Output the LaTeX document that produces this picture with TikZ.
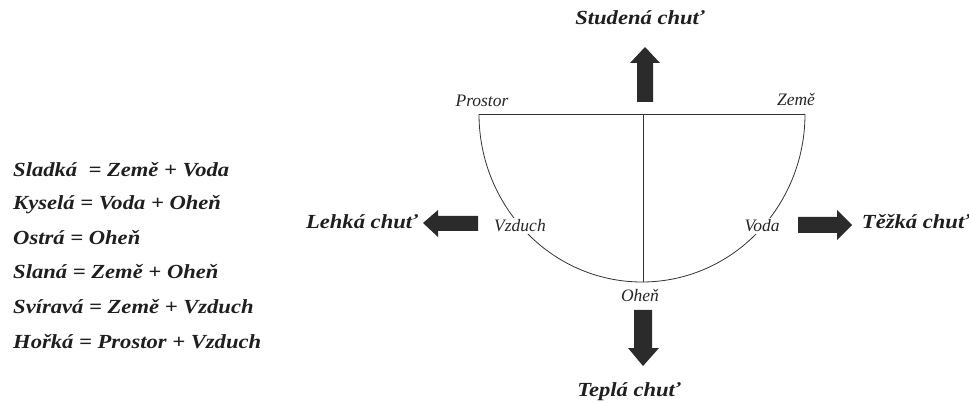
\documentclass[tikz,border=0pt]{standalone}
\usepackage{fontspec}
\setmainfont{Liberation Serif}
\newfontfamily\widefont[FakeStretch=1.13]{Liberation Serif}
\begin{document}
\begin{tikzpicture}[x=1pt,y=-1pt,
  big/.style={font=\widefont\fontsize{20}{22}\selectfont\bfseries\itshape, text=black!88, inner sep=0pt},
  small/.style={font=\fontsize{17.5}{19}\selectfont\itshape, text=black!85, inner sep=1.5pt, fill=white},
  lst/.style={big, anchor=west},
  blk/.style={fill=black!83},
  ln/.style={draw=black!80, line width=0.8pt}]
\useasboundingbox (0,0) rectangle (969,403);
% list
\node[lst] (l1) at (13,170) {Sladká \ = Země + Voda};
\node[lst] (l2) at (13,205) {Kyselá = Voda + Oheň};
\node[lst] (l3) at (13,238) {Ostrá = Oheň};
\node[lst] (l4) at (13,272) {Slaná = Země + Oheň};
\node[lst] (l5) at (13,307) {Svíravá = Země + Vzduch};
\node[lst] (l6) at (13,342) {Hořká = Prostor + Vzduch};
% semicircle
\coordinate (tl) at (479,114);
\coordinate (tr) at (805,114);
\coordinate (tc) at (643,114);
\coordinate (bc) at (643,282);
\draw[ln] (tl) -- (tr);
\draw[ln] (tc) -- (bc);
\draw[ln] (tl) arc[start angle=180, end angle=0, x radius=163, y radius=168];
% labels
\node[small] (prostor) at (482,101) {Prostor};
\node[small] (zeme) at (796,100) {Země};
\node[small] (vzduch) at (520,226) {Vzduch};
\node[small] (voda) at (762,226) {Voda};
\node[small] (ohen) at (640,296) {Oheň};
% outer labels
\node[big] (studena) at (640,18) {Studená chuť};
\node[big] (tepla) at (629,392) {Teplá chuť};
\node[big] (lehka) at (362,222) {Lehká chuť};
\node[big] (tezka) at (916,222) {Těžká chuť};
% arrows
\fill[blk] (645,47) -- (660,63) -- (653,63) -- (653,102) -- (637,102) -- (637,63) -- (630,63) -- cycle;
\fill[blk] (643,366) -- (659,348) -- (652,348) -- (652,310) -- (634,310) -- (634,348) -- (628,348) -- cycle;
\fill[blk] (423,223) -- (438,210) -- (438,216) -- (478,216) -- (478,231) -- (438,231) -- (438,237) -- cycle;
\fill[blk] (852,225) -- (837,210) -- (837,217) -- (798,217) -- (798,233) -- (837,233) -- (837,240) -- cycle;
\end{tikzpicture}
\end{document}
